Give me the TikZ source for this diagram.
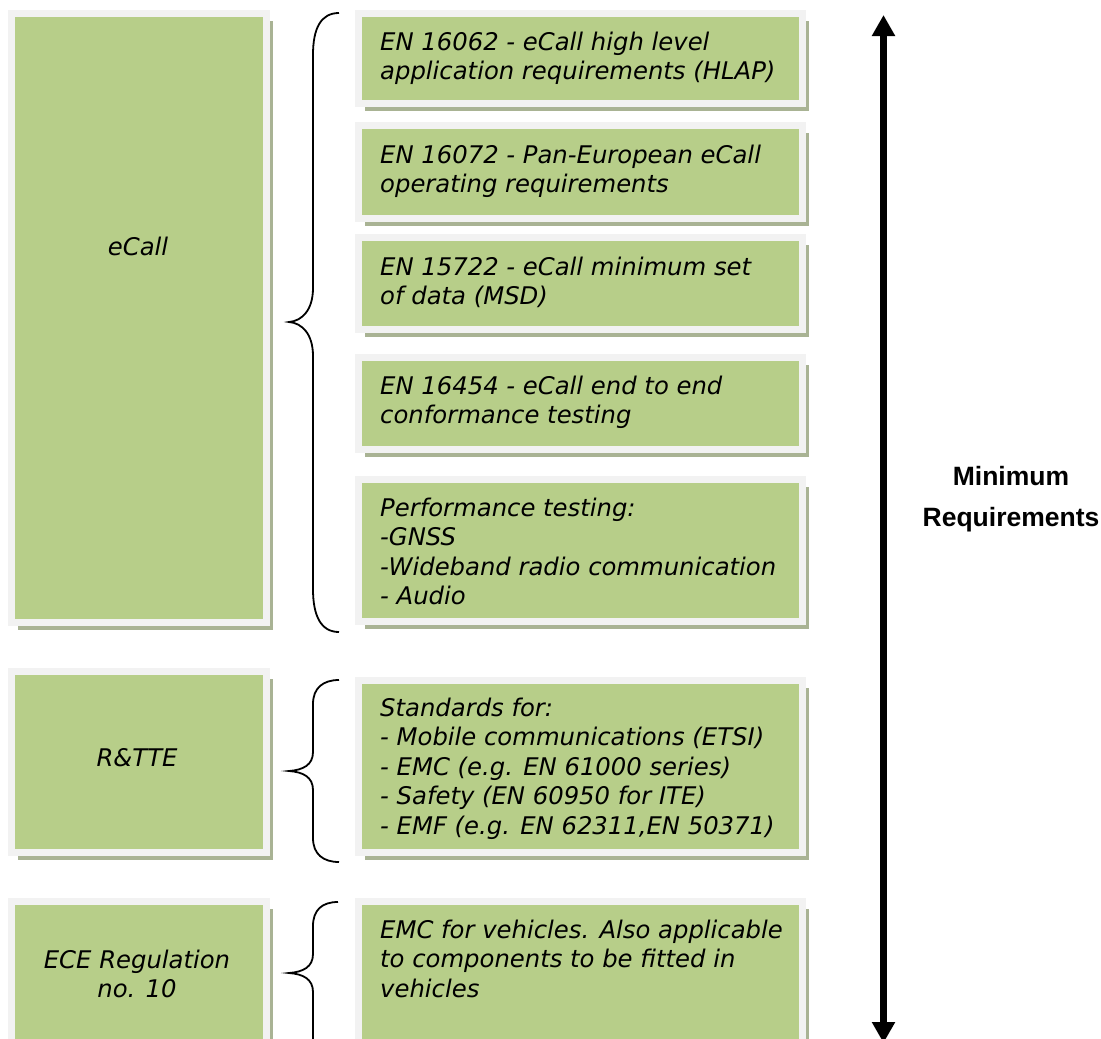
\documentclass[tikz,border=0pt]{standalone}
\usepackage{fontspec}
\setmainfont{DejaVu Sans}
\newfontfamily\headfont{Liberation Sans}
\usetikzlibrary{arrows.meta,shadows,fit}

\definecolor{boxgreen}{HTML}{B7CE89}
\definecolor{boxframe}{HTML}{F2F2F2}
\definecolor{boxshadow}{HTML}{A9B394}

\tikzset{
  panel/.style={draw=boxframe, line width=7pt, fill=boxgreen, inner sep=-3.5pt,
    general shadow={fill=boxshadow, shadow xshift=6.5pt, shadow yshift=-7.5pt}},
  bodytext/.style={inner sep=0pt, font=\itshape\fontsize{24.3}{29.5}\selectfont},
  headtext/.style={inner sep=0pt, font=\headfont\bfseries\fontsize{26.5}{41}\selectfont},
  bracestroke/.style={draw=black, line width=1.8pt},
  spanarrow/.style={line width=7pt, {Triangle[length=21pt,width=22pt]}-{Triangle[length=21pt,width=22pt]}}
}

\newcommand{\lines}[2][l]{\begin{tabular}[t]{@{}#1@{}}#2\end{tabular}}

\begin{document}
\begin{tikzpicture}[x=1pt, y=-1pt]
\useasboundingbox (0,0) rectangle (1101,1039);
\clip (0,0) rectangle (1101,1039);

% left-hand category boxes
\node[panel, fit={(8,10) (270,626)}] (ecall) {};
\node[panel, fit={(8,668) (270,856)}] (rtte) {};
\node[panel, fit={(8,898) (270,1052)}] (ece) {};

% right-hand standard boxes
\node[panel, fit={(355,10) (806,107)}] (hlap) {};
\node[panel, fit={(355,122) (806,222)}] (oper) {};
\node[panel, fit={(355,234) (806,333)}] (msd) {};
\node[panel, fit={(355,354) (806,453)}] (conf) {};
\node[panel, fit={(355,476) (806,625)}] (perf) {};
\node[panel, fit={(355,677) (806,856)}] (stds) {};
\node[panel, fit={(355,898) (806,1052)}] (emcveh) {};

% category labels
\node[bodytext, anchor=base] (ecallL) at (138,255) {eCall};
\node[bodytext, anchor=base] (rtteL) at (137,766) {R\&TTE};
\node[bodytext, anchor=base] (eceL) at (137,968) {\lines[c]{ECE Regulation\\no. 10}};

% standard texts
\node[bodytext, anchor=base west] (hlapL) at (380,50) {\lines{EN 16062 - eCall high level\\application requirements (HLAP)}};
\node[bodytext, anchor=base west] (operL) at (380,163) {\lines{EN 16072 - Pan-European eCall\\operating requirements}};
\node[bodytext, anchor=base west] (msdL) at (380,275) {\lines{EN 15722 - eCall minimum set\\of data (MSD)}};
\node[bodytext, anchor=base west] (confL) at (380,394) {\lines{EN 16454 - eCall end to end\\conformance testing}};
\node[bodytext, anchor=base west] (perfL) at (380,516) {\lines{Performance testing:\\-GNSS\\-Wideband radio communication\\- Audio}};
\node[bodytext, anchor=base west] (stdsL) at (380,716) {\lines{Standards for:\\- Mobile communications (ETSI)\\- EMC (e.g. EN 61000 series)\\- Safety (EN 60950 for ITE)\\- EMF (e.g. EN 62311,EN 50371)}};
\node[bodytext, anchor=base west] (emcvehL) at (380,938) {\lines{EMC for vehicles. Also applicable\\to components to be fitted in\\vehicles}};

% braces grouping the standards
\coordinate (b1top) at (339,13);
\coordinate (b1tip) at (289,322);
\coordinate (b1bot) at (339,632);
\draw[bracestroke] (b1top) .. controls (321,13) and (313,28) .. (313,55)
  -- (313,288) .. controls (313,310) and (302,321) .. (b1tip)
  .. controls (302,323) and (313,334) .. (313,356)
  -- (313,589) .. controls (313,616) and (321,632) .. (b1bot);

\coordinate (b2top) at (339,680);
\coordinate (b2tip) at (289,771);
\coordinate (b2bot) at (339,862);
\draw[bracestroke] (b2top) .. controls (323,680) and (313,688) .. (313,704)
  -- (313,752) .. controls (313,765) and (303,770) .. (b2tip)
  .. controls (303,772) and (313,777) .. (313,790)
  -- (313,838) .. controls (313,854) and (323,862) .. (b2bot);

\coordinate (b3top) at (338,902);
\coordinate (b3tip) at (289,973);
\coordinate (b3bot) at (313,1050);
\draw[bracestroke] (b3top) .. controls (322,902) and (313,910) .. (313,926)
  -- (313,954) .. controls (313,967) and (303,972) .. (b3tip)
  .. controls (303,974) and (313,979) .. (313,992)
  -- (b3bot);

% span arrow and its caption
\coordinate (arrTop) at (883.5,15);
\coordinate (arrBot) at (883.5,1043);
\draw[spanarrow] (arrTop) -- (arrBot);
\node[headtext, anchor=base] (minreq) at (1011,485.5) {\lines[c]{Minimum\\Requirements}};
\end{tikzpicture}
\end{document}
